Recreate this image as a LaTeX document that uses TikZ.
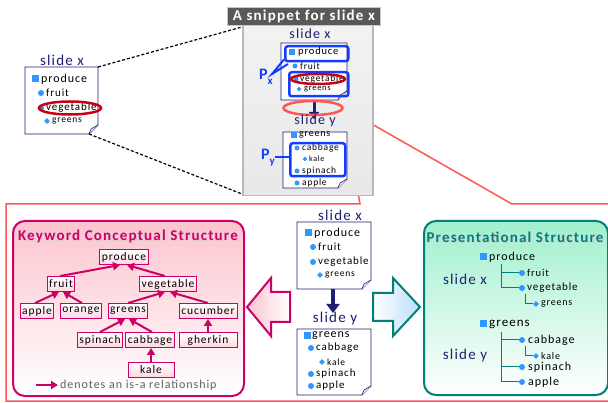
\documentclass[tikz,border=0pt]{standalone}
\usepackage{fontspec}
\setmainfont{Carlito}[LetterSpace=8]
\usetikzlibrary{arrows.meta,shapes.geometric,calc}

\definecolor{navy}{RGB}{30,30,115}
\definecolor{bulletblue}{RGB}{50,150,255}
\definecolor{hlblue}{RGB}{20,60,255}
\definecolor{darkred}{RGB}{200,0,20}
\definecolor{salmon}{RGB}{255,85,85}
\definecolor{kwmag}{RGB}{204,0,102}
\definecolor{psteal}{RGB}{0,128,120}
\definecolor{pinkfill}{RGB}{252,196,206}
\definecolor{pinknode}{RGB}{255,214,224}
\definecolor{mintfill}{RGB}{160,240,205}
\definecolor{skyfill}{RGB}{185,222,250}

\newcommand\fsz[1]{\fontsize{#1}{#1}\selectfont}

\tikzset{
  pagebox/.style={draw=navy,fill=white,line width=0.8pt},
  foldtri/.style={draw=navy,line width=0.6pt,fill=navy!8},
  sq/.style={rectangle,fill=bulletblue,minimum size=7pt,inner sep=0pt},
  dot/.style={circle,fill=bulletblue,minimum size=6pt,inner sep=0pt},
  dia/.style={diamond,fill=bulletblue,minimum size=6pt,inner sep=0pt},
  txt/.style={anchor=west,inner sep=0pt,text=black},
  ttl/.style={text=navy,inner sep=0pt,font=\fsz{15}},
  hl/.style={draw=hlblue,line width=2.5pt,rounded corners=2.5pt},
  plabel/.style={text=hlblue,inner sep=0pt},
  plink/.style={draw=hlblue,line width=2pt},
  kw/.style={draw=kwmag,line width=0.9pt,top color=white,bottom color=pinknode,
    inner xsep=2pt,inner ysep=0pt,minimum height=15pt,text=black,font=\fsz{11.5}},
  isa/.style={draw=kwmag,line width=2pt,-{Triangle[length=7pt,width=8pt]}},
  tree/.style={draw=psteal,line width=1pt},
  frame/.style={draw=salmon,line width=1.5pt,line join=miter},
  circ/.style={ellipse,draw=darkred,line width=2.5pt,inner sep=0pt},
  dashlink/.style={draw=black,line width=1.2pt,dash pattern=on 3pt off 2pt},
  paneltitle/.style={font=\fsz{15}\bfseries,inner sep=0pt},
}

% page with a folded lower-right corner: #1 name, (#2,#3) top-left, (#4,#5) bottom-right
\newcommand\foldpage[5]{%
  \draw[pagebox] (#2,#3) -- (#4,#3) -- (#4,{#5-9}) -- ({#4-9},#5) -- (#2,#5) -- cycle;
  \draw[foldtri] (#4,{#5-9}) -- ({#4-7},{#5-5}) -- ({#4-9},#5);
  \coordinate (#1-nw) at (#2,#3);
  \coordinate (#1-ne) at (#4,#3);
  \coordinate (#1-se) at ({#4-9},#5);
}

\begin{document}
\begin{tikzpicture}[x=1pt,y=-1pt]
\useasboundingbox (0,0) rectangle (608,403);
\fill[white] (0,0) rectangle (608,403);

% ---------- outer frame around the two structures ----------
\node[ellipse,draw=salmon,line width=2.5pt,minimum width=59pt,minimum height=14pt,inner sep=0pt] (focus) at (313,108) {};
\coordinate (fr1) at (360,204);
\coordinate (fr2) at (6,204);
\coordinate (fr3) at (6,401);
\coordinate (fr4) at (616,401);
\coordinate (fr5) at (616,204);
\coordinate (fr6) at (512,204);
\draw[frame] (focus.east) -- (fr1) -- (fr2) -- (fr3) -- (fr4);
\draw[frame] (focus.east) -- (fr6) -- (fr5);

% ---------- small slide x, top left ----------
\node[ttl] (tlt) at (62,60) {slide x};
\foldpage{tl}{25}{67}{98}{134}
\node[sq] (tl1b) at (35,79) {};
\node[txt,font=\fsz{12}] (tl1) at (41,79) {produce};
\node[dot] (tl2b) at (41,93) {};
\node[txt,font=\fsz{11}] (tl2) at (46,93) {fruit};
\node[dot] (tl3b) at (41,108) {};
\node[txt,font=\fsz{11}] (tl3) at (46,108) {vegetable};
\node[dia] (tl4b) at (47,121) {};
\node[txt,font=\fsz{9.5}] (tl4) at (52,121) {greens};
\node[circ,minimum width=62pt,minimum height=13pt] (tlring) at (70,108) {};

% ---------- snippet panel ----------
\node[draw=gray!55,line width=1.5pt,top color=gray!10,bottom color=gray!18,
      minimum width=130pt,minimum height=170pt,inner sep=0pt,anchor=north west] (snip) at (242,25) {};
\node[fill=gray!70!black,draw=gray!45,line width=0.8pt,text=white,font=\fsz{15}\bfseries,
      minimum width=153pt,minimum height=18pt,inner sep=0pt,anchor=north west] (sniptitle) at (227,7) {A snippet for slide x};
\coordinate (dl1) at (242,27);
\coordinate (dl2) at (242,194);
\draw[dashlink] (tl-ne) -- (dl1);
\draw[dashlink] (tl-se) -- (dl2);

\node[ttl,font=\fsz{14}] (sxt) at (310,34) {slide x};
\foldpage{sx}{281}{43}{347}{100}
\node[hl,minimum width=63pt,minimum height=15pt,inner sep=0pt,anchor=north west] (pxa) at (284,45) {};
\node[sq,minimum size=6pt] (sx1b) at (292,52) {};
\node[txt,font=\fsz{10.5}] (sx1) at (298,52) {produce};
\node[dot,minimum size=5pt] (sx2b) at (295,66) {};
\node[txt,font=\fsz{9.5}] (sx2) at (300,66) {fruit};
\node[hl,minimum width=59pt,minimum height=24pt,inner sep=0pt,anchor=north west] (pxb) at (288,71) {};
\node[dot,minimum size=5pt] (sx3b) at (296,79) {};
\node[txt,font=\fsz{9.5}] (sx3) at (300,79) {vegetable};
\node[dia,minimum size=5pt] (sx4b) at (299,89) {};
\node[txt,font=\fsz{8.5}] (sx4) at (304,89) {greens};
\node[circ,minimum width=54pt,minimum height=10pt] (sxring) at (318,79) {};
\node[plabel] (px) at (266,77) {{\fsz{16}\bfseries P}\raisebox{-5pt}{\fsz{11}\bfseries x}};
\coordinate (pxtip) at (272,74);
\draw[plink] (pxa.south west) ++(0,-3) coordinate (pxa1) -- (pxtip) -- ($(pxb.north west)+(0,-7)$) coordinate (pxb1);
\coordinate (sxarr) at (314,100);
\coordinate (syarr) at (314,119);
\draw[navy,line width=3pt,-{Triangle[length=7pt,width=10pt]}] (sxarr) -- (syarr);
\node[ellipse,draw=salmon,line width=2.5pt,minimum width=59pt,minimum height=14pt,inner sep=0pt] (focus2) at (313,108) {};

\node[ttl,font=\fsz{14}] (syt) at (315,121) {slide y};
\foldpage{sy}{283}{132}{347}{188}
\node[sq,minimum size=6pt] (sy1b) at (294,135) {};
\node[txt,font=\fsz{10}] (sy1) at (299,135) {greens};
\node[hl,minimum width=55pt,minimum height=33pt,inner sep=0pt,anchor=north west] (pyb) at (289,142) {};
\node[dot,minimum size=5pt] (sy2b) at (297,148) {};
\node[txt,font=\fsz{9.5}] (sy2) at (302,148) {cabbage};
\node[dia,minimum size=5pt] (sy3b) at (305,159) {};
\node[txt,font=\fsz{8}] (sy3) at (309,159) {kale};
\node[dot,minimum size=5pt] (sy4b) at (297,171) {};
\node[txt,font=\fsz{9.5}] (sy4) at (302,171) {spinach};
\node[dot,minimum size=5pt] (sy5b) at (297,183) {};
\node[txt,font=\fsz{9.5}] (sy5) at (302,183) {apple};
\node[plabel] (py) at (268,158) {{\fsz{16}\bfseries P}\raisebox{-5pt}{\fsz{11}\bfseries y}};
\coordinate (pytip) at (275,157);
\draw[plink] (pytip) -- (pyb.west |- pytip);

% ---------- keyword conceptual structure ----------
\node[draw=kwmag,line width=2pt,rounded corners=12pt,top color=pinkfill,bottom color=white,
      minimum width=231pt,minimum height=175pt,inner sep=0pt,anchor=north west] (kcs) at (12,220) {};
\node[paneltitle,text=gray!35] (kcsshadow) at (129,237) {Keyword Conceptual Structure};
\node[paneltitle,text=kwmag] (kcstitle) at (128,236) {Keyword Conceptual Structure};

\node[kw] (produce) at (124,257) {produce};
\node[kw] (fruit) at (61,284) {fruit};
\node[kw] (vegetable) at (168,284) {vegetable};
\node[kw] (apple) at (37,311) {apple};
\node[kw] (orange) at (81,311) {orange};
\node[kw] (greens) at (128,311) {greens};
\node[kw,minimum width=58pt] (cucumber) at (208,311) {cucumber};
\node[kw] (spinach) at (100,340) {spinach};
\node[kw] (cabbage) at (150,340) {cabbage};
\node[kw,minimum width=58pt] (gherkin) at (208,340) {gherkin};
\node[kw,minimum width=46pt] (kale) at (151,370) {kale};

\draw[isa] ([xshift=-1pt]fruit.north) -- ([xshift=-4pt]produce.south);
\draw[isa] ([xshift=-3pt]vegetable.north) -- ([xshift=3pt]produce.south);
\draw[isa] ([xshift=-2pt]apple.north) -- ([xshift=-2pt]fruit.south);
\draw[isa] ([xshift=1pt]orange.north) -- ([xshift=2pt]fruit.south);
\draw[isa] (greens.north) -- ([xshift=-3pt]vegetable.south);
\draw[isa] (cucumber.north) -- ([xshift=2pt]vegetable.south);
\draw[isa] (spinach.north) -- ([xshift=-3pt]greens.south);
\draw[isa] ([xshift=2pt]cabbage.north) -- ([xshift=1pt]greens.south);
\draw[isa] (gherkin.north) -- (cucumber.south);
\draw[isa] (kale.north) -- ([xshift=1pt]cabbage.south);

\coordinate (lg1) at (36,385);
\coordinate (lg2) at (58,385);
\draw[isa] (lg1) -- (lg2);
\node[txt,text=gray!75!black,font=\fsz{12}] (legend) at (60,385) {denotes an is-a relationship};

% ---------- left block arrow ----------
\draw[draw=kwmag,line width=2pt,left color=pinkfill,right color=white,line join=miter]
  (247,307) coordinate (la) -- (271,278) -- (271,292) -- (290,292) -- (290,322) -- (271,322) -- (271,336) -- cycle;

% ---------- slides x and y, centre ----------
\node[ttl] (cxt) at (340,215) {slide x};
\foldpage{cx}{297}{222}{371}{289}
\node[sq] (cx1b) at (308,233) {};
\node[txt,font=\fsz{12}] (cx1) at (314,233) {produce};
\node[dot] (cx2b) at (313,247) {};
\node[txt,font=\fsz{11}] (cx2) at (318,247) {fruit};
\node[dot] (cx3b) at (313,262) {};
\node[txt,font=\fsz{11}] (cx3) at (318,262) {vegetable};
\node[dia] (cx4b) at (320,275) {};
\node[txt,font=\fsz{9.5}] (cx4) at (325,275) {greens};

\coordinate (cxarr) at (333,289);
\coordinate (cyarr) at (333,313);
\draw[navy,line width=4pt,-{Triangle[length=9pt,width=13pt]}] (cxarr) -- (cyarr);

\node[ttl] (cyt) at (335,319) {slide y};
\foldpage{cy}{297}{329}{371}{395}
\node[sq] (cy1b) at (307,336) {};
\node[txt,font=\fsz{12}] (cy1) at (312,336) {greens};
\node[dot] (cy2b) at (311,348) {};
\node[txt,font=\fsz{11}] (cy2) at (316,348) {cabbage};
\node[dia] (cy3b) at (322,362) {};
\node[txt,font=\fsz{9.5}] (cy3) at (327,362) {kale};
\node[dot] (cy4b) at (311,374) {};
\node[txt,font=\fsz{11}] (cy4) at (316,374) {spinach};
\node[dot] (cy5b) at (311,386) {};
\node[txt,font=\fsz{11}] (cy5) at (316,386) {apple};

% ---------- right block arrow ----------
\draw[draw=psteal,line width=2pt,left color=white,right color=skyfill,line join=miter]
  (373,293) -- (393,293) -- (393,278) -- (420,307) coordinate (ra) -- (393,336) -- (393,321) -- (373,321) -- cycle;

% ---------- presentational structure ----------
\node[draw=psteal,line width=2pt,rounded corners=12pt,top color=mintfill,bottom color=white,
      minimum width=184pt,minimum height=174pt,inner sep=0pt,anchor=north west] (ps) at (423,220) {};
\node[paneltitle,text=gray!35] (psshadow) at (516,238) {Presentational Structure};
\node[paneltitle,text=psteal] (pstitle) at (515,237) {Presentational Structure};

\node[ttl] (psx) at (465,279) {slide x};
\node[ttl] (psy) at (465,356) {slide y};

\node[sq] (p1b) at (483,257) {};
\node[txt,font=\fsz{12}] (p1) at (489,257) {produce};
\node[dot] (p2b) at (522,273) {};
\node[txt,font=\fsz{10.5}] (p2) at (527,273) {fruit};
\node[dot] (p3b) at (522,288) {};
\node[txt,font=\fsz{11}] (p3) at (527,288) {vegetable};
\node[dia] (p4b) at (536,304) {};
\node[txt,font=\fsz{10}] (p4) at (541,304) {greens};
\draw[tree] (501,264) -- (501,288) -- (p3b.west);
\draw[tree] (501,273) -- (p2b.west);
\draw[tree] (525,294) -- (525,304) -- (p4b.west);

\node[sq] (p5b) at (483,324) {};
\node[txt,font=\fsz{13}] (p5) at (489,324) {greens};
\node[dot] (p6b) at (522,340) {};
\node[txt,font=\fsz{12}] (p6) at (528,340) {cabbage};
\node[dia] (p7b) at (536,356) {};
\node[txt,font=\fsz{10}] (p7) at (541,356) {kale};
\node[dot] (p8b) at (522,367) {};
\node[txt,font=\fsz{12}] (p8) at (528,367) {spinach};
\node[dot] (p9b) at (522,382) {};
\node[txt,font=\fsz{12}] (p9) at (528,382) {apple};
\draw[tree] (501,332) -- (501,382) -- (p9b.west);
\draw[tree] (501,340) -- (p6b.west);
\draw[tree] (501,367) -- (p8b.west);
\draw[tree] (525,346) -- (525,356) -- (p7b.west);
\end{tikzpicture}
\end{document}
